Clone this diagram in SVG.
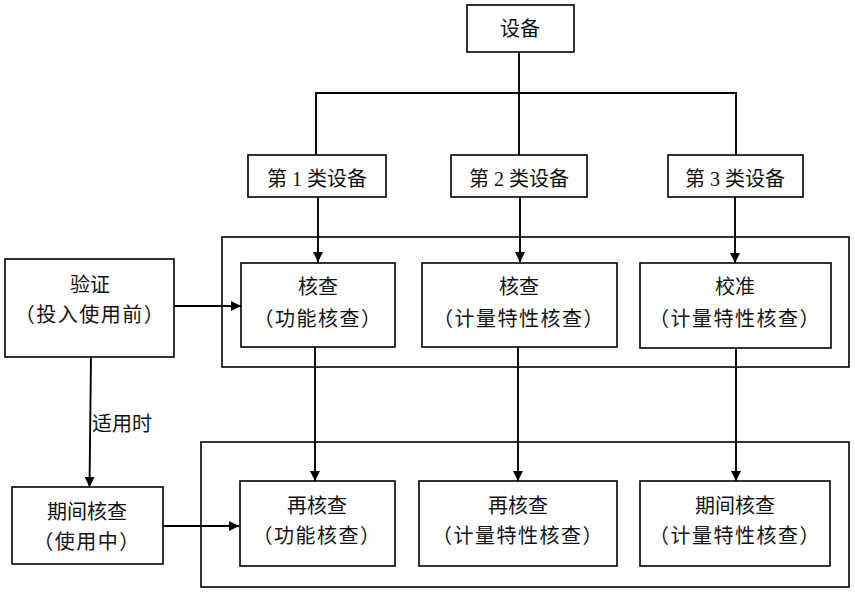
<svg xmlns="http://www.w3.org/2000/svg" width="855" height="592" viewBox="0 0 855 592">
<style>
rect{fill:#fff;stroke:#000;stroke-width:1.6}
.outer{fill:none}
text{font-family:"Liberation Serif","Noto Sans CJK SC",serif;font-size:20px;fill:#111;text-anchor:middle}
.w{letter-spacing:1.5px}
.c line,.c path{stroke:#000;stroke-width:1.9;fill:none}
.lab{text-anchor:start}
</style>
<defs>
<marker id="ah" viewBox="0 0 10 10" refX="10" refY="5" markerWidth="10" markerHeight="10" markerUnits="userSpaceOnUse" orient="auto">
<path d="M0,0 L10,5 L0,10 z" fill="#000"/>
</marker>
</defs>
<g id="groups">
<rect class="outer" x="222" y="237" width="627" height="130"/>
<rect class="outer" x="201" y="442" width="648" height="145"/>
</g>
<g class="c" id="connectors">
<line x1="519" y1="52" x2="519" y2="155"/>
<path d="M316,155 V93 H736 V155"/>
<line x1="318" y1="197" x2="318" y2="262" marker-end="url(#ah)"/>
<line x1="520" y1="197" x2="520" y2="262" marker-end="url(#ah)"/>
<line x1="735" y1="197" x2="735" y2="263" marker-end="url(#ah)"/>
<line x1="174" y1="306" x2="241" y2="306" marker-end="url(#ah)"/>
<line x1="91" y1="357" x2="89.5" y2="487" marker-end="url(#ah)"/>
<line x1="163" y1="526" x2="239" y2="526" marker-end="url(#ah)"/>
<line x1="315" y1="347" x2="315" y2="481" marker-end="url(#ah)"/>
<line x1="518" y1="347" x2="518" y2="481" marker-end="url(#ah)"/>
<line x1="736" y1="348" x2="736" y2="481" marker-end="url(#ah)"/>
<text class="lab" x="92" y="431">适用时</text>
</g>
<g id="n-equip"><rect x="467" y="5" width="107" height="47"/><text x="520" y="36">设备</text></g>
<g id="n-cat1"><rect x="248" y="155" width="138" height="42"/><text x="317" y="186">第 1 类设备</text></g>
<g id="n-cat2"><rect x="451" y="155" width="136" height="42"/><text x="519" y="186">第 2 类设备</text></g>
<g id="n-cat3"><rect x="668" y="155" width="135" height="42"/><text x="735" y="186">第 3 类设备</text></g>
<g id="n-verify"><rect x="5" y="259" width="169" height="98"/><text x="90" y="292">验证</text><text class="w" x="90" y="322">（投入使用前）</text></g>
<g id="n-check1"><rect x="241" y="263" width="154" height="84"/><text x="318" y="294">核查</text><text class="w" x="318" y="326">（功能核查）</text></g>
<g id="n-check2"><rect x="422" y="263" width="195" height="84"/><text x="519" y="294">核查</text><text class="w" x="519" y="326">（计量特性核查）</text></g>
<g id="n-calib"><rect x="640" y="263" width="191" height="85"/><text x="735" y="294">校准</text><text class="w" x="735" y="326">（计量特性核查）</text></g>
<g id="n-period"><rect x="12" y="487" width="151" height="77"/><text x="87" y="519">期间核查</text><text class="w" x="87" y="549">（使用中）</text></g>
<g id="n-recheck1"><rect x="240" y="481" width="155" height="85"/><text x="317" y="513">再核查</text><text class="w" x="317" y="543">（功能核查）</text></g>
<g id="n-recheck2"><rect x="419" y="481" width="198" height="85"/><text x="518" y="513">再核查</text><text class="w" x="518" y="543">（计量特性核查）</text></g>
<g id="n-period3"><rect x="640" y="481" width="190" height="85"/><text x="735" y="513">期间核查</text><text class="w" x="735" y="543">（计量特性核查）</text></g>
</svg>
